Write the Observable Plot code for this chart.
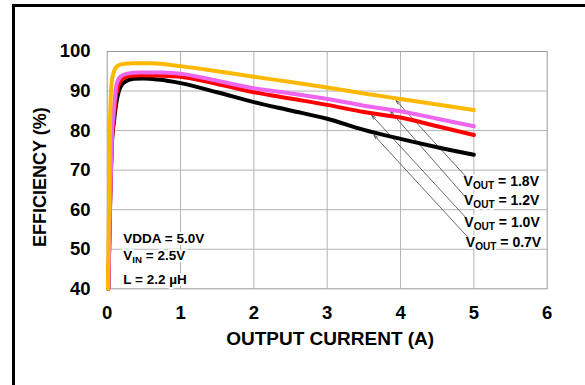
<!DOCTYPE html>
<html>
<head>
<meta charset="utf-8">
<script src="https://cdn.jsdelivr.net/npm/d3@7"></script>
<script src="https://cdn.jsdelivr.net/npm/@observablehq/plot@0.6"></script>
<style>
  html, body { margin: 0; padding: 0; background: #fff; }
  #wrap { position: relative; width: 585px; height: 385px; overflow: hidden; }
  #border { position: absolute; left: 12px; top: 4px; right: -10px; bottom: -10px;
            border-left: 3px solid #000; border-top: 3px solid #000; }
  #chart { position: absolute; left: 0; top: 0; }
  #chart svg { font-family: "Liberation Sans", Arial, sans-serif; }
</style>
</head>
<body>
<div id="wrap"><div id="border"></div><div id="chart"></div></div>
<script>
// ---- data ----
const xTicks = [0, 1, 2, 3, 4, 5, 6];
const yTicks = [40, 50, 60, 70, 80, 90, 100];

// VOUT = 0.7V (black)
const i07 = [0.015,0.04,0.065,0.09,0.12,0.16,0.23,0.36,0.5,0.7,1,1.5,2,2.5,3,3.5,4,4.5,5];
const e07 = [40,62,77,82,86.5,90,92.2,93.1,93.2,92.9,92.0,89.7,87.2,85.1,83.0,80.2,77.9,75.8,73.9];
// VOUT = 1.0V (red)
const i10 = [0.015,0.04,0.065,0.09,0.113,0.15,0.2,0.3,0.45,0.7,1,1.5,2,2.5,3,3.5,4,4.5,5];
const e10 = [40,62,78,83,87.6,91.2,93.0,93.8,94.0,93.9,93.6,91.8,89.7,88.1,86.5,84.7,83.3,81.1,78.9];
// VOUT = 1.2V (magenta)
const i12 = [0.015,0.04,0.065,0.09,0.127,0.18,0.27,0.45,0.7,1,1.5,2,2.5,3,3.5,4,4.5,5];
const e12 = [40,62,79,85,91.6,93.6,94.4,94.7,94.7,94.4,92.6,90.7,89.4,88.0,86.3,84.9,83.0,81.1];
// VOUT = 1.8V (yellow)
const i18 = [0.01,0.025,0.035,0.046,0.06,0.09,0.136,0.23,0.36,0.6,1,1.5,2,2.5,3,3.5,4,4.5,5];
const e18 = [40,62,79,87,92,94.8,96.3,96.9,97.05,97.0,96.3,95.0,93.6,92.3,90.9,89.4,88.0,86.6,85.2];

const seriesNames  = ["0.7V", "1.0V", "1.2V", "1.8V"];
const seriesColors = ["#000000", "#ff0000", "#ee66ee", "#ffb800"];

// callout labels and their arrows
const voutLabels = ["VOUT = 1.8V", "VOUT = 1.2V", "VOUT = 1.0V", "VOUT = 0.7V"];
const labelX = [4.86, 4.865, 4.87, 4.89];
const labelY = [67.2, 62.2, 56.8, 51.7];
const arrowFromX = [4.89, 4.88, 4.88, 4.91];
const arrowFromY = [68.4, 63.3, 58.2, 53.2];
const arrowToX   = [3.94, 3.86, 3.61, 3.64];
const arrowToY   = [87.6, 84.9, 83.8, 78.8];

const condLabels = ["VDDA = 5.0V", "VIN = 2.5V", "L = 2.2 \u00b5H"];
const condX = [0.22, 0.22, 0.22];
const condY = [52.7, 48.4, 42.3];

// ---- build tables ----
const seriesX = [i07, i10, i12, i18];
const seriesY = [e07, e10, e12, e18];
const curves = seriesNames.map((name, k) =>
  seriesX[k].map((x, j) => ({x, y: seriesY[k][j], name})));
const arrows = voutLabels.map((t, k) => ({x1: arrowFromX[k], y1: arrowFromY[k], x2: arrowToX[k], y2: arrowToY[k]}));
const vlab = voutLabels.map((t, k) => ({t, x: labelX[k], y: labelY[k]}));
const clab = condLabels.map((t, k) => ({t, x: condX[k], y: condY[k]}));

const chart = Plot.plot({
  width: 585,
  height: 385,
  marginLeft: 106.7,
  marginRight: 38.3,
  marginTop: 51,
  marginBottom: 96.7,
  x: {domain: [0, 6]},
  y: {domain: [40, 100]},
  marks: [
    Plot.gridX([1,2,3,4,5], {stroke: "#b4b4b4", strokeOpacity: 1, strokeWidth: 1}),
    Plot.gridY([50,60,70,80,90], {stroke: "#b4b4b4", strokeOpacity: 1, strokeWidth: 1}),
    Plot.frame({stroke: "#9a9a9a"}),
    Plot.axisX(xTicks, {tickSize: 0, tickPadding: 17, fontSize: 18.5, fontWeight: "bold", fill: "#000", label: null}),
    Plot.axisY(yTicks, {tickSize: 0, tickPadding: 16.7, fontSize: 18.5, fontWeight: "bold", fill: "#000", label: null}),
    Plot.text(["OUTPUT CURRENT (A)"], {frameAnchor: "bottom", dx: 3, dy: 49.7, lineAnchor: "middle",
      textAnchor: "middle", fontSize: 19, fontWeight: "bold", fill: "#000"}),
    Plot.text(["EFFICIENCY (%)"], {frameAnchor: "left", dx: -66.7, dy: 7, rotate: -90, lineAnchor: "middle",
      textAnchor: "middle", fontSize: 18, fontWeight: "bold", fill: "#000"}),
    Plot.text(clab, {x: "x", y: "y", text: "t", textAnchor: "start", lineAnchor: "middle",
      fontSize: 13.5, fontWeight: "bold", fill: "#000", stroke: "white", strokeWidth: 4}),
    Plot.text(vlab, {x: "x", y: "y", text: "t", textAnchor: "start", lineAnchor: "middle",
      fontSize: 14, fontWeight: "bold", fill: "#000", stroke: "white", strokeWidth: 4}),
    Plot.arrow(arrows, {x1: "x1", y1: "y1", x2: "x2", y2: "y2", stroke: "#444", strokeWidth: 0.8,
      headLength: 7, headAngle: 40, inset: 0}),
    ...curves.map((c, k) => Plot.line(c, {x: "x", y: "y", stroke: seriesColors[k], strokeWidth: 4,
      curve: "monotone-x"}))
  ]
});

// subscripts for V_OUT / V_IN
d3.select(chart).selectAll("text").filter(function() {
  return this.childElementCount === 0 && /^V(OUT|IN) /.test(this.textContent);
}).each(function() {
  const m = this.textContent.match(/^V(OUT|IN)(.*)$/);
  const s = d3.select(this);
  s.text(null);
  s.append("tspan").text("V");
  s.append("tspan").attr("font-size", "0.72em").attr("dy", "3").text(m[1]);
  s.append("tspan").attr("dy", "-3").text(m[2]);
});

document.getElementById("chart").appendChild(chart);
</script>
</body>
</html>
